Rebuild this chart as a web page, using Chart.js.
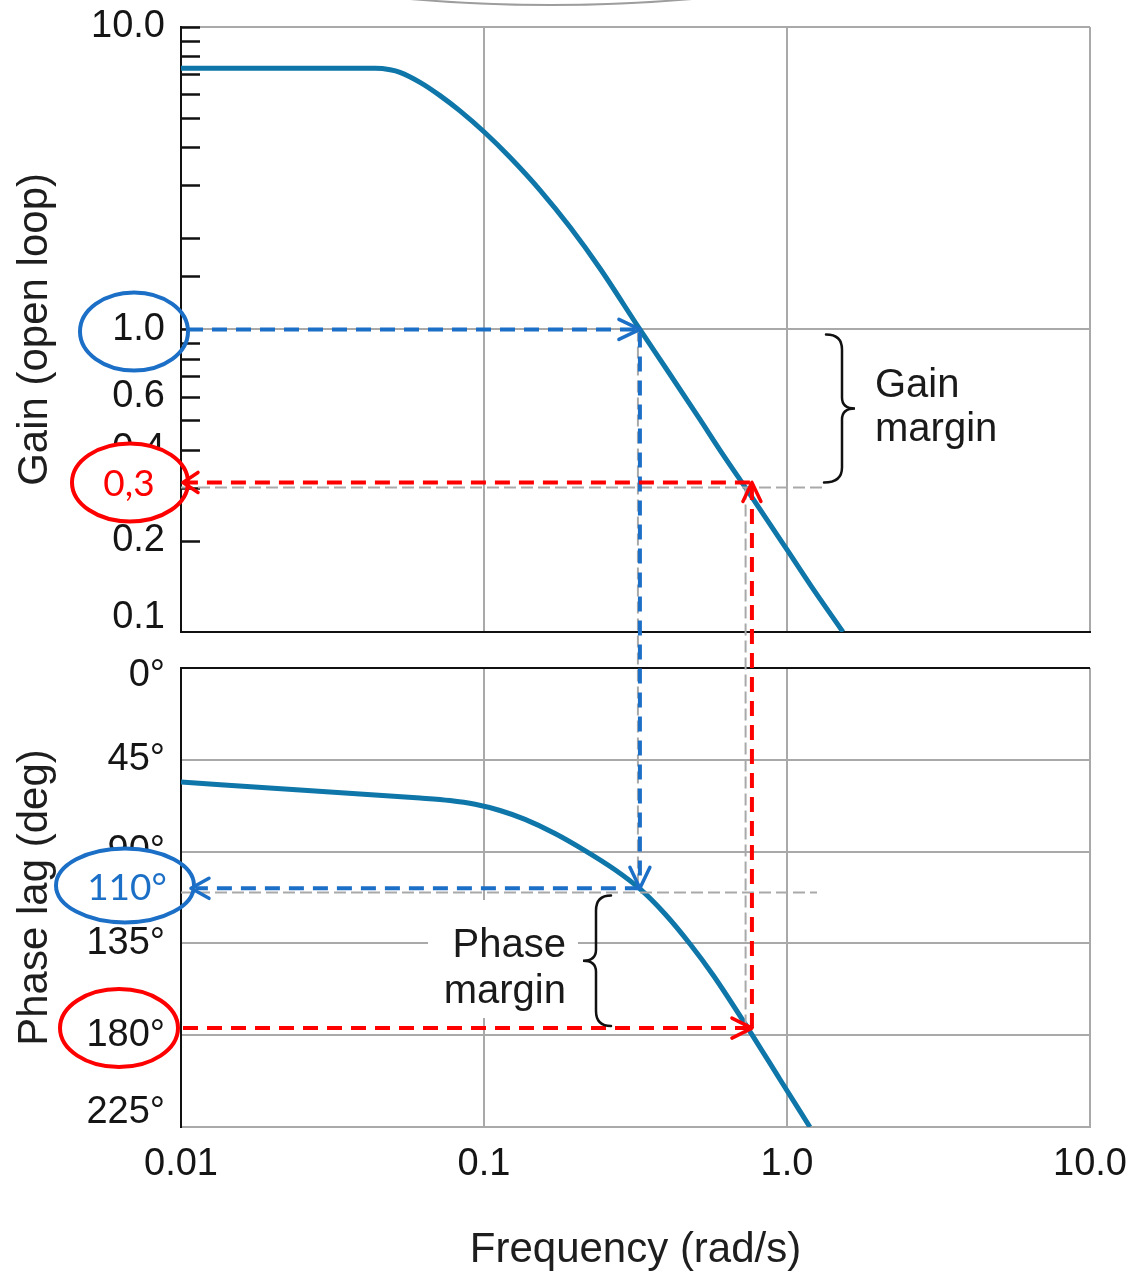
<!DOCTYPE html>
<html>
<head>
<meta charset="utf-8">
<script src="https://cdn.jsdelivr.net/npm/chart.js@4.4.1/dist/chart.umd.min.js"></script>
<style>
html,body{margin:0;padding:0;background:#fff;}
#wrap{position:relative;width:1145px;height:1273px;overflow:hidden;background:#fff;}
canvas{position:absolute;left:0;}
#c1{top:0;}
#c2{top:640px;}
#ov{top:0;pointer-events:none;}
</style>
</head>
<body>
<div id="wrap">
<canvas id="c1" width="1145" height="660"></canvas>
<canvas id="c2" width="1145" height="636"></canvas>
<canvas id="ov" width="1145" height="1273"></canvas>
</div>
<script>
// ---------- data ----------
const freqGain   = [0.01, 0.02, 0.03, 0.04, 0.0437, 0.049, 0.0528, 0.0615, 0.0716, 0.0833, 0.1008, 0.1218, 0.153, 0.1922, 0.2415, 0.327, 0.4, 0.516, 0.6, 0.755, 1.0, 1.2, 1.53];
const gainValues = [7.3, 7.3, 7.3, 7.3, 7.30, 7.22, 7.08, 6.56, 5.93, 5.28, 4.47, 3.71, 2.89, 2.18, 1.59, 1.0, 0.74, 0.504, 0.40, 0.285, 0.187, 0.142, 0.1];

const freqPhase   = [0.01, 0.0247, 0.0615, 0.0772, 0.0934, 0.1129, 0.1366, 0.1715, 0.2154, 0.2706, 0.3273, 0.3958, 0.4786, 0.57, 0.755, 0.9483, 1.19];
const phaseValues = [55.9, 59.8, 63.7, 64.95, 66.8, 69.85, 74.2, 81.1, 89.5, 98.9, 108.3, 120.6, 135.3, 150.5, 178.2, 201.7, 225.0];

const freqTicks       = [0.01, 0.1, 1, 10];
const freqTickLabels  = ['0.01', '0.1', '1.0', '10.0'];
const gainTicks       = [10, 1, 0.6, 0.4, 0.2, 0.1];
const gainTickLabels  = ['10.0', '1.0', '0.6', '0.4', '0.2', '0.1'];
const phaseTicks      = [0, 45, 90, 135, 180, 225];
const phaseTickLabels = ['0°', '45°', '90°', '135°', '180°', '225°'];

// annotation values
const gainCrossFreq   = 0.327;  // gain = 1
const gainCrossPhase  = 108;    // curve phase there
const phaseMarginRef  = 110;    // labelled 110°
const phaseCrossFreq  = 0.766;  // phase = 180
const phaseCrossPhase = 176.5;
const gainMarginVal   = 0.3;
const gainMarginArrow = 0.312;
const phaseCrossGuide = 0.73;

// ---------- styles ----------
const TOP1 = 0, TOP2 = 640;
const FONT = "'Liberation Sans', Arial, sans-serif";
const ANNOT_FONT = "Lato, 'Noto Sans', sans-serif";
const GRID = '#a9a9a9';
const AXIS = '#111111';
const CURVE = '#0e76a8';
const BLUE = '#1c6fc6';
const RED = '#ff0000';
const CLEAR = 'rgba(0,0,0,0)';

function near(a, b) { return Math.abs(a - b) < 1e-9 * Math.max(1, Math.abs(b)); }
function idxOf(arr, v) { for (let i = 0; i < arr.length; i++) if (near(v, arr[i])) return i; return -1; }

const minorTicks = {
  id: 'minorTicks',
  afterDraw(chart) {
    const ys = chart.scales.y, a = chart.chartArea, c = chart.ctx;
    c.save();
    c.strokeStyle = AXIS; c.lineWidth = 2.5;
    ys.ticks.forEach(t => {
      if (near(t.value, 0.1)) return;
      const y = Math.round(ys.getPixelForValue(t.value)) + 0.5;
      c.beginPath(); c.moveTo(a.left, y); c.lineTo(a.left + 19, y); c.stroke();
    });
    c.restore();
  }
};

const xCommon = {
  type: 'logarithmic', min: 0.01, max: 10,
  grid: {
    drawTicks: false, lineWidth: 2,
    color: ctx => (ctx.tick && idxOf(freqTicks, ctx.tick.value) > 0) ? GRID : CLEAR
  }
};

const ch1 = new Chart(document.getElementById('c1'), {
  type: 'line',
  data: { datasets: [{
    data: freqGain.map((f, i) => ({ x: f, y: gainValues[i] })),
    borderColor: CURVE, borderWidth: 5, pointRadius: 0, fill: false,
    cubicInterpolationMode: 'monotone'
  }]},
  options: {
    responsive: false, animation: false, devicePixelRatio: 1,
    layout: { padding: { left: 0, right: 55, top: 27, bottom: 28 } },
    plugins: { legend: { display: false }, tooltip: { enabled: false } },
    scales: {
      x: Object.assign({}, xCommon, {
        ticks: { display: false },
        border: { color: AXIS, width: 2 },
        afterFit: s => { s.height = 0; }
      }),
      y: {
        type: 'logarithmic', min: 0.1, max: 10,
        afterFit: s => { s.width = 181; },
        ticks: {
          autoSkip: false, padding: 0, color: '#151515',
          font: ctx => (ctx.tick && near(ctx.tick.value, 0.1))
            ? { family: FONT, size: 38, lineHeight: 0.74 }
            : { family: FONT, size: 38 },
          callback: v => {
            const i = idxOf(gainTicks, v);
            if (i < 0) return '';
            return near(v, 0.1) ? [gainTickLabels[i], ''] : gainTickLabels[i];
          }
        },
        grid: {
          drawTicks: true, tickLength: 16, tickColor: CLEAR, lineWidth: 2,
          color: ctx => (ctx.tick && (near(ctx.tick.value, 1) || near(ctx.tick.value, 10))) ? GRID : CLEAR
        },
        border: { color: AXIS, width: 2 },
        title: { display: true, text: 'Gain (open loop)', color: '#1e1e1e',
                 font: { family: FONT, size: 42 }, padding: { top: 10, bottom: 0 } }
      }
    }
  },
  plugins: [minorTicks]
});

const ch2 = new Chart(document.getElementById('c2'), {
  type: 'line',
  data: { datasets: [{
    data: freqPhase.map((f, i) => ({ x: f, y: phaseValues[i] })),
    borderColor: CURVE, borderWidth: 5, pointRadius: 0, fill: false,
    cubicInterpolationMode: 'monotone'
  }]},
  options: {
    responsive: false, animation: false, devicePixelRatio: 1,
    layout: { padding: { left: 0, right: 55, top: 28, bottom: 0 } },
    plugins: { legend: { display: false }, tooltip: { enabled: false } },
    scales: {
      x: Object.assign({}, xCommon, {
        afterFit: s => { s.height = 149; },
        ticks: {
          autoSkip: false, maxRotation: 0, padding: 15, color: '#151515',
          font: { family: FONT, size: 38 },
          callback: v => { const i = idxOf(freqTicks, v); return i >= 0 ? freqTickLabels[i] : ''; }
        },
        border: { color: GRID, width: 2 },
        title: { display: true, text: 'Frequency (rad/s)', color: '#1e1e1e',
                 font: { family: FONT, size: 42 }, padding: { top: 0, bottom: 0 } }
      }),
      y: {
        type: 'linear', min: 0, max: 225, reverse: true,
        afterFit: s => { s.width = 181; },
        ticks: {
          stepSize: 45, autoSkip: false, padding: 0, color: '#151515',
          font: ctx => {
            const v = ctx.tick ? ctx.tick.value : -1;
            if (near(v, 225)) return { family: FONT, size: 38, lineHeight: 0.74 };
            if (near(v, 0)) return { family: FONT, size: 38, lineHeight: 0.4 };
            return { family: FONT, size: 38 };
          },
          callback: v => {
            const i = idxOf(phaseTicks, v);
            if (i < 0) return '';
            if (near(v, 225)) return [phaseTickLabels[i], ''];
            if (near(v, 0)) return ['', phaseTickLabels[i]];
            return phaseTickLabels[i];
          }
        },
        grid: {
          drawTicks: true, tickLength: 16, tickColor: CLEAR, lineWidth: 2,
          color: ctx => (ctx.tick && near(ctx.tick.value, 0)) ? AXIS : GRID
        },
        border: { color: AXIS, width: 2 },
        title: { display: true, text: 'Phase lag (deg)', color: '#1e1e1e',
                 font: { family: FONT, size: 42 }, padding: { top: 10, bottom: 0 } }
      }
    }
  }
});

function drawOverlay() {
  const c = document.getElementById('ov').getContext('2d');
  c.clearRect(0, 0, 1145, 1273);
  const X = f => ch1.scales.x.getPixelForValue(f);
  const YG = g => ch1.scales.y.getPixelForValue(g) + TOP1;
  const YP = p => ch2.scales.y.getPixelForValue(p) + TOP2;
  const L = ch1.chartArea.left;

  function dline(x1, y1, x2, y2, color, w, dash) {
    c.save(); c.strokeStyle = color; c.lineWidth = w; c.setLineDash(dash); c.lineCap = 'butt';
    c.beginPath(); c.moveTo(x1, y1); c.lineTo(x2, y2); c.stroke(); c.restore();
  }
  function arrow(tx, ty, dx, dy, len, hw, color) {
    const px = -dy, py = dx;
    c.save(); c.strokeStyle = color; c.lineWidth = 3.5; c.lineCap = 'round'; c.lineJoin = 'round'; c.setLineDash([]);
    c.beginPath();
    c.moveTo(tx - dx * len + px * hw, ty - dy * len + py * hw);
    c.lineTo(tx, ty);
    c.lineTo(tx - dx * len - px * hw, ty - dy * len - py * hw);
    c.stroke(); c.restore();
  }
  function ellipse(cx, cy, rx, ry, color, fillWhite) {
    c.save();
    if (fillWhite) {
      c.save(); c.beginPath(); c.rect(0, 0, L - 1, 1273); c.clip();
      c.beginPath(); c.ellipse(cx, cy, rx, ry, 0, 0, Math.PI * 2); c.fillStyle = '#fff'; c.fill();
      c.restore();
    }
    c.beginPath(); c.ellipse(cx, cy, rx, ry, 0, 0, Math.PI * 2);
    c.strokeStyle = color; c.lineWidth = 4; c.stroke();
    c.restore();
  }

  // decorative arc at very top
  c.save(); c.strokeStyle = '#9d9d9d'; c.lineWidth = 2;
  c.beginPath(); c.moveTo(410, -1); c.quadraticCurveTo(550, 11, 692, -1); c.stroke(); c.restore();

  const xg = X(gainCrossFreq), xp = X(phaseCrossFreq), xpg = X(phaseCrossGuide);
  const y1 = YG(1), y03 = YG(gainMarginVal), y03r = YG(gainMarginArrow);
  const y110 = YP(phaseMarginRef), y108 = YP(gainCrossPhase), y180r = YP(phaseCrossPhase);

  // white box behind "Phase margin"
  c.fillStyle = '#fff'; c.fillRect(428, 900, 150, 118);

  // grey guide dashes
  dline(L, y03, 822, y03, '#a9a9a9', 2, [12, 5]);
  dline(L, y110, 817, y110, '#a9a9a9', 2, [12, 5]);
  dline(xg - 2, y1, xg - 2, y108, '#a9a9a9', 2, [12, 5]);
  dline(xpg, y03, xpg, YP(180), '#a9a9a9', 2, [12, 5]);

  // ellipses + annotation text
  ellipse(134, y1 + 2, 54, 39, BLUE, false);
  ellipse(130, y03r, 58, 39, RED, true);
  ellipse(125, y110 - 7, 69, 37, BLUE, true);
  ellipse(119, y180r, 59, 39, RED, false);
  c.save();
  c.textAlign = 'center'; c.textBaseline = 'middle';
  c.font = '37px ' + ANNOT_FONT;
  c.fillStyle = RED; c.fillText('0,3', 129, y03r + 2);
  c.fillStyle = BLUE; c.fillText('110°', 127, y110 - 4);
  c.restore();

  // blue path
  dline(188, y1, xg - 2, y1, BLUE, 4, [15, 9]);
  dline(xg, y1 + 3, xg, y108 - 2, BLUE, 4, [15, 9]);
  dline(xg, y108, 196, y108, BLUE, 4, [15, 9]);
  arrow(xg, y1, 1, 0, 21, 10, BLUE);
  arrow(xg, y108, 0, 1, 21, 10, BLUE);
  arrow(191, y108, -1, 0, 18, 10, BLUE);

  // red path
  dline(L + 2, y180r, xp - 2, y180r, RED, 4, [15, 9]);
  dline(xp, y180r, xp, y03r + 2, RED, 4, [15, 9]);
  dline(xp - 2, y03r, 186, y03r, RED, 4, [15, 9]);
  arrow(xp, y180r, 1, 0, 20, 10, RED);
  arrow(xp, y03r, 0, -1, 19, 9, RED);
  arrow(183, y03r, -1, 0, 15, 10, RED);

  // braces
  c.save(); c.strokeStyle = '#111'; c.lineWidth = 2.5; c.lineCap = 'round'; c.setLineDash([]);
  let top = y1 + 5, bot = y03 - 5, mid = (top + bot) / 2, sx = 842;
  c.beginPath();
  c.moveTo(826, top); c.quadraticCurveTo(sx, top, sx, top + 15);
  c.lineTo(sx, mid - 11); c.quadraticCurveTo(sx, mid, sx + 13, mid);
  c.quadraticCurveTo(sx, mid, sx, mid + 11); c.lineTo(sx, bot - 15);
  c.quadraticCurveTo(sx, bot, 824, bot);
  c.stroke();
  top = y110 + 3; bot = y180r - 2; mid = (top + bot) / 2; sx = 596;
  c.beginPath();
  c.moveTo(611, top); c.quadraticCurveTo(sx, top, sx, top + 15);
  c.lineTo(sx, mid - 11); c.quadraticCurveTo(sx, mid, sx - 13, mid);
  c.quadraticCurveTo(sx, mid, sx, mid + 11); c.lineTo(sx, bot - 15);
  c.quadraticCurveTo(sx, bot, 611, bot);
  c.stroke();
  c.restore();

  // margin labels
  c.save(); c.fillStyle = '#1a1a1a'; c.font = '40px ' + FONT; c.textBaseline = 'alphabetic';
  c.textAlign = 'left';
  c.fillText('Gain', 875, 397);
  c.fillText('margin', 875, 441);
  c.textAlign = 'right';
  c.fillText('Phase', 566, 957);
  c.fillText('margin', 566, 1003);
  c.restore();
}
drawOverlay();
</script>
</body>
</html>
